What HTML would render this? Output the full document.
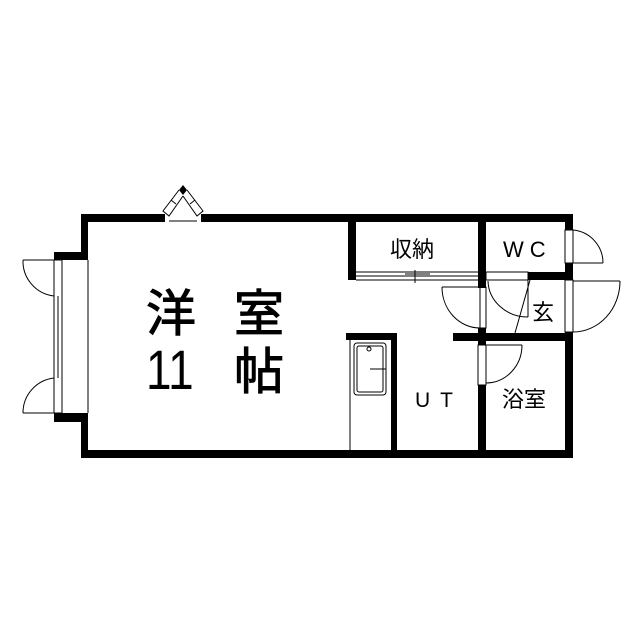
<!DOCTYPE html>
<html><head><meta charset="utf-8"><style>
html,body{margin:0;padding:0;background:#fff;}
svg{display:block}
text{font-family:"Liberation Sans","Noto Sans CJK JP",sans-serif;fill:#000}
</style></head><body>
<svg width="639" height="640" viewBox="0 0 639 640" xmlns="http://www.w3.org/2000/svg">
<g fill="#000">
<rect x="81" y="214" width="84" height="8"/>
<rect x="201" y="214" width="372" height="8"/>
<rect x="81" y="214" width="7" height="46"/>
<rect x="54" y="252" width="34" height="8"/>
<rect x="54" y="413" width="34" height="9"/>
<rect x="81" y="413" width="7" height="45"/>
<rect x="81" y="450" width="492" height="8"/>
<rect x="565" y="214" width="8" height="16"/>
<rect x="565" y="263" width="8" height="17"/>
<rect x="565" y="332" width="8" height="126"/>
<rect x="348" y="222" width="8" height="58"/>
<rect x="478" y="222" width="8" height="66"/>
<rect x="478" y="328" width="8" height="17"/>
<rect x="478" y="385" width="8" height="73"/>
<rect x="528" y="272" width="45" height="8"/>
<rect x="453" y="333" width="120" height="8"/>
<rect x="346" y="333" width="51" height="7"/>
<rect x="391" y="333" width="6" height="118"/>
<path d="M183 185 L187 190 L183 195 L179 190 Z"/>
</g>
<g fill="none" stroke="#000" stroke-width="1">
<path d="M179 190 L163 211 L169 216 L183 196"/>
<path d="M187 190 L203 211 L197 216 L183 196"/>
<line x1="171" y1="200" x2="176" y2="204"/>
<line x1="195" y1="200" x2="190" y2="204"/>
<line x1="169" y1="221" x2="197" y2="221"/>
<rect x="54" y="260" width="8" height="153"/>
<line x1="58" y1="296" x2="58" y2="378"/>
<line x1="88" y1="260" x2="88" y2="413"/>
<line x1="23" y1="260" x2="54" y2="260"/>
<path d="M23 260 A35 35 0 0 0 54 296"/>
<line x1="23" y1="413" x2="54" y2="413"/>
<path d="M54 378 A35 35 0 0 0 23 413"/>
<line x1="356" y1="272" x2="478" y2="272"/>
<line x1="356" y1="276" x2="478" y2="276"/>
<line x1="356" y1="280" x2="478" y2="280"/>
<line x1="405" y1="274" x2="430" y2="274"/>
<line x1="415" y1="270" x2="415" y2="283"/>
<rect x="565" y="230" width="8" height="33"/>
<line x1="573" y1="263" x2="603" y2="263"/>
<path d="M573 230 A33 33 0 0 1 603 263"/>
<rect x="565" y="280" width="8" height="52"/>
<line x1="573" y1="281" x2="620" y2="281"/>
<path d="M620 281 A47 51 0 0 1 573 332"/>
<rect x="486" y="272" width="42" height="8"/>
<line x1="528" y1="280" x2="528" y2="317"/>
<path d="M488 281 A40 37 0 0 0 528 317"/>
<line x1="530" y1="280" x2="515" y2="333"/>
<rect x="480" y="287" width="6" height="41"/>
<line x1="442" y1="287" x2="480" y2="287"/>
<path d="M442 287 A38 41 0 0 0 480 328"/>
<rect x="478" y="345" width="8" height="40"/>
<line x1="486" y1="345" x2="522" y2="345"/>
<path d="M522 345 A36 38 0 0 1 486 383"/>
<line x1="350" y1="340" x2="350" y2="451"/>
<rect x="354" y="343" width="32" height="52" rx="3"/>
<rect x="357" y="346" width="26" height="46" rx="2"/>
<circle cx="369" cy="349" r="2"/>
<line x1="370" y1="369" x2="386" y2="369"/>
</g>
<g stroke="#000" stroke-width="1">
<text x="146" y="331" font-size="50">洋</text>
<text x="234" y="331" font-size="50">室</text>
<text x="234" y="389" font-size="50">帖</text>
</g>
<text transform="translate(146,389) scale(0.82,1)" font-size="56">11</text>
<text x="390" y="257" font-size="22">収納</text>
<text x="503" y="257" font-size="22" letter-spacing="6">WC</text>
<text x="532" y="320" font-size="22">玄</text>
<text x="415" y="407" font-size="21" letter-spacing="10">UT</text>
<text x="502" y="407" font-size="22">浴室</text>
</svg>
</body></html>
